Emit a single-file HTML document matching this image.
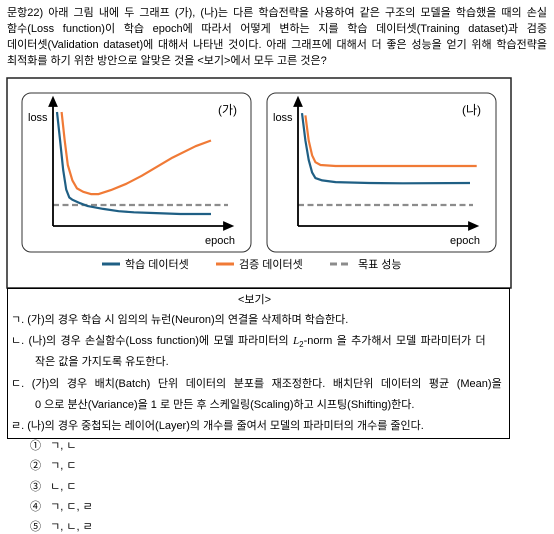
<!DOCTYPE html>
<html><head><meta charset="utf-8">
<style>
body{margin:0;width:554px;height:534px;background:#fff;font-family:"Liberation Sans","Noto Sans CJK KR",sans-serif;color:#000;position:relative;overflow:hidden}
.q{position:absolute;left:7px;width:540px;font-size:11px;line-height:16px;text-align:justify;text-align-last:justify;white-space:nowrap}
.box{position:absolute;left:7px;top:288px;width:501px;height:149px;border:1.3px solid #000;font-size:11px}
.ln{position:absolute;left:3px;white-space:nowrap}
.opt{position:absolute;left:30px;font-size:11px}
</style></head><body>
<div class="q" style="top:5px">문항22) 아래 그림 내에 두 그래프 (가), (나)는 다른 학습전략을 사용하여 같은 구조의 모델을 학습했을 때의 손실</div>
<div class="q" style="top:21px">함수(Loss function)이 학습 epoch에 따라서 어떻게 변하는 지를 학습 데이터셋(Training dataset)과 검증</div>
<div class="q" style="top:37px">데이터셋(Validation dataset)에 대해서 나타낸 것이다. 아래 그래프에 대해서 더 좋은 성능을 얻기 위해 학습전략을</div>
<div class="q" style="top:53px;text-align-last:left">최적화를 하기 위한 방안으로 알맞은 것을 &lt;보기&gt;에서 모두 고른 것은?</div>
<svg id="ch" style="position:absolute;left:0;top:0" width="554" height="290">
<rect x="7" y="78" width="504" height="210" fill="none" stroke="#222" stroke-width="1.5"/>
<rect x="22" y="93" width="229" height="159" rx="9" fill="none" stroke="#333" stroke-width="1"/>
<rect x="267" y="93" width="229" height="159" rx="9" fill="none" stroke="#333" stroke-width="1"/>
<g id="g"></g>
<text x="28" y="121" font-size="11" font-family="Liberation Sans,sans-serif">loss</text>
<text x="273" y="121" font-size="11" font-family="Liberation Sans,sans-serif">loss</text>
<text x="218" y="114" font-size="12" font-family="Liberation Sans,Noto Sans CJK KR,sans-serif">(가)</text>
<text x="462" y="114" font-size="12" font-family="Liberation Sans,Noto Sans CJK KR,sans-serif">(나)</text>
<text x="205" y="244" font-size="11" font-family="Liberation Sans,sans-serif">epoch</text>
<text x="450" y="244" font-size="11" font-family="Liberation Sans,sans-serif">epoch</text>
<g font-size="11" font-family="Liberation Sans,Noto Sans CJK KR,sans-serif">
<line x1="102" y1="264" x2="120" y2="264" stroke="#1f5f84" stroke-width="3"/><text x="125" y="268">학습 데이터셋</text>
<line x1="216" y1="264" x2="234" y2="264" stroke="#f07a36" stroke-width="3"/><text x="239" y="268">검증 데이터셋</text>
<line x1="330" y1="264" x2="350" y2="264" stroke="#8c8c8c" stroke-width="3" stroke-dasharray="7,4"/><text x="358" y="268">목표 성능</text>
</g>
</svg>
<div class="box">
<div class="ln" style="left:230px;top:2px">&lt;보기&gt;</div>
<div class="ln" style="top:22px">ㄱ. (가)의 경우 학습 시 임의의 뉴런(Neuron)의 연결을 삭제하며 학습한다.</div>
<div class="ln" style="top:43px;word-spacing:1.3px">ㄴ. (나)의 경우 손실함수(Loss function)에 모델 파라미터의 <i style="font-family:Liberation Serif,serif">L</i><sub style="font-size:8px">2</sub>-norm 을 추가해서 모델 파라미터가 더</div>
<div class="ln" style="top:64px;left:27px">작은 값을 가지도록 유도한다.</div>
<div class="ln" style="top:86px;word-spacing:4.5px">ㄷ. (가)의 경우 배치(Batch) 단위 데이터의 분포를 재조정한다. 배치단위 데이터의 평균 (Mean)을</div>
<div class="ln" style="top:107px;left:27px">0 으로 분산(Variance)을 1 로 만든 후 스케일링(Scaling)하고 시프팅(Shifting)한다.</div>
<div class="ln" style="top:128px">ㄹ. (나)의 경우 중첩되는 레이어(Layer)의 개수를 줄여서 모델의 파라미터의 개수를 줄인다.</div>
</div>
<div class="opt" style="top:437px">①&nbsp;&nbsp;&nbsp;ㄱ, ㄴ</div>
<div class="opt" style="top:457px">②&nbsp;&nbsp;&nbsp;ㄱ, ㄷ</div>
<div class="opt" style="top:478px">③&nbsp;&nbsp;&nbsp;ㄴ, ㄷ</div>
<div class="opt" style="top:498px">④&nbsp;&nbsp;&nbsp;ㄱ, ㄷ, ㄹ</div>
<div class="opt" style="top:518px">⑤&nbsp;&nbsp;&nbsp;ㄱ, ㄴ, ㄹ</div>
<script>
const gaTrainEpochs=[0,2,4,6,8,10,15,20,30,40,50,60,80,100];
const gaTrainLoss=[10,7.5,4.9,3.2,2.5,2.3,2.0,1.75,1.5,1.3,1.2,1.15,1.05,1.05];
const gaValEpochs=[3,5,7,10,13,17,22,27,35,45,55,65,75,90,100];
const gaValLoss=[10,7.5,5.35,4.0,3.3,3.0,2.8,2.8,3.15,3.7,4.4,5.2,6.0,7.0,7.5];
const naTrainEpochs=[0,2,4,6,8,12,20,40,60,100];
const naTrainLoss=[9.9,7.5,5.8,4.7,4.2,4.0,3.85,3.77,3.75,3.77];
const naValEpochs=[2,4,6,8,11,20,60,104];
const naValLoss=[9.7,7.5,6.2,5.6,5.35,5.26,5.26,5.26];
const targetLoss=1.84;
const NS='http://www.w3.org/2000/svg';
const g=document.getElementById('g');
function yS(v){return 226-v*11.4;}
function mk(t,a){const e=document.createElementNS(NS,t);for(const k in a)e.setAttribute(k,a[k]);g.appendChild(e);return e;}
function panel(ax,x0,xk,tr,tl,ve,vl,nm){
  const xS=e=>x0+e*xk;
  let e=mk('line',{x1:ax,y1:yS(targetLoss),x2:ax+175,y2:yS(targetLoss),stroke:'#8c8c8c','stroke-width':2.2,'stroke-dasharray':'6,3.5'});
  
  
  e=mk('path',{d:'M'+ax+' 226V102M'+(ax-3.5)+' 106L'+ax+' 98L'+(ax+3.5)+' 106Z M'+ax+' 226H'+(ax+175)+'M'+(ax+171)+' 222.5L'+(ax+179)+' 226L'+(ax+171)+' 229.5Z',stroke:'#000','stroke-width':1.8,fill:'#000'});
  
  
  const line=(es,ls,c,n)=>{const p=mk('path',{d:es.map((v,i)=>(i?'L':'M')+xS(v).toFixed(1)+' '+yS(ls[i]).toFixed(1)).join(''),fill:'none',stroke:c,'stroke-width':2.2,'stroke-linejoin':'round'});
    
    };
  line(ve,vl,'#f07a36',nm+'-validation-line');
  line(tr,tl,'#1f5f84',nm+'-training-line');
}
panel(53,57,1.54,gaTrainEpochs,gaTrainLoss,gaValEpochs,gaValLoss,'ga');
panel(298,302,1.68,naTrainEpochs,naTrainLoss,naValEpochs,naValLoss,'na');
</script>
</body></html>
